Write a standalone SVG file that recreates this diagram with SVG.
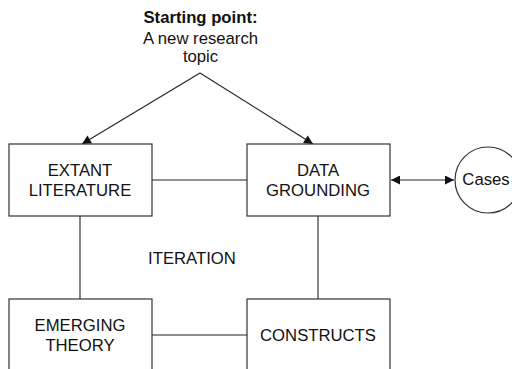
<svg xmlns="http://www.w3.org/2000/svg" width="512" height="369" viewBox="0 0 512 369">
  <style>
    .box { fill: #ffffff; stroke: #333333; stroke-width: 1.2; }
    .line { fill: none; stroke: #222222; stroke-width: 1.1; }
    text { font-family: "Liberation Sans", Arial, sans-serif; font-size: 16.7px; fill: #111111; text-anchor: middle; }
    .bold { font-weight: bold; }
  </style>
  <defs>
    <marker id="arrow" viewBox="0 0 10 10" refX="10" refY="5" markerWidth="11" markerHeight="9" markerUnits="userSpaceOnUse" orient="auto-start-reverse">
      <path d="M0,0 L10,5 L0,10 z" fill="#111111"/>
    </marker>
  </defs>

  <rect width="512" height="369" fill="#ffffff"/>

  <g id="start">
    <text x="200.5" y="23" class="bold">Starting point:</text>
    <text x="200.5" y="43.5">A new research</text>
    <text x="200.5" y="62">topic</text>
  </g>

  <g id="connectors">
    <line class="line" x1="200" y1="73" x2="82" y2="144" marker-end="url(#arrow)"/>
    <line class="line" x1="200" y1="73" x2="313" y2="144" marker-end="url(#arrow)"/>
    <line class="line" x1="152" y1="180" x2="247" y2="180"/>
    <line class="line" x1="80" y1="216" x2="80" y2="299"/>
    <line class="line" x1="318" y1="216" x2="318" y2="299"/>
    <line class="line" x1="152" y1="335" x2="247" y2="335"/>
    <line class="line" x1="391" y1="180" x2="454" y2="180" marker-start="url(#arrow)" marker-end="url(#arrow)"/>
  </g>

  <g id="extant-literature">
    <rect class="box" x="9" y="144" width="143" height="72"/>
    <text x="80" y="176">EXTANT</text>
    <text x="80" y="195.5">LITERATURE</text>
  </g>

  <g id="data-grounding">
    <rect class="box" x="247" y="144" width="143" height="72"/>
    <text x="318" y="176">DATA</text>
    <text x="318" y="195.5">GROUNDING</text>
  </g>

  <g id="cases">
    <circle class="box" cx="488" cy="180" r="33"/>
    <text x="486" y="185">Cases</text>
  </g>

  <g id="iteration">
    <text x="192" y="264">ITERATION</text>
  </g>

  <g id="emerging-theory">
    <rect class="box" x="9" y="299" width="143" height="80"/>
    <text x="80" y="330.5">EMERGING</text>
    <text x="80" y="350.5">THEORY</text>
  </g>

  <g id="constructs">
    <rect class="box" x="247" y="299" width="143" height="80"/>
    <text x="318" y="341">CONSTRUCTS</text>
  </g>
</svg>
